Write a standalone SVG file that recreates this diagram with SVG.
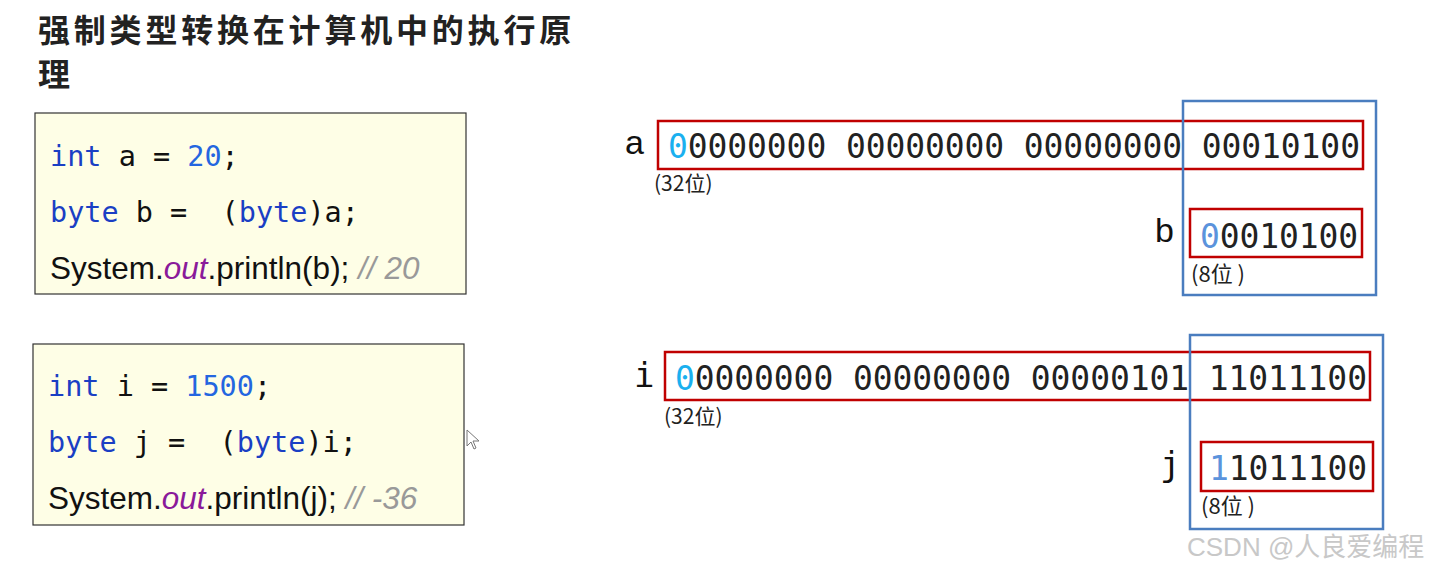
<svg xmlns="http://www.w3.org/2000/svg" width="1429" height="573" viewBox="0 0 1429 573">
<style>
.title{font-family:"Noto Sans CJK SC","Noto Sans",sans-serif;font-weight:bold;font-size:32px;fill:#222;letter-spacing:3.8px}
.code{font-family:"DejaVu Sans Mono",monospace;font-size:28.5px;fill:#111;white-space:pre}
.kw{fill:#1a3fc4}
.num{fill:#2466e0}
.sans{font-family:"Liberation Sans",Arial,sans-serif;font-size:31.5px;fill:#111;white-space:pre}
.out{fill:#8a1a9a;font-style:italic}
.cm{fill:#999;font-style:italic}
.box{fill:#fefee6;stroke:#333;stroke-width:1.2}
.red{fill:none;stroke:#c00000;stroke-width:2.5}
.blue{fill:none;stroke:#4a7dbf;stroke-width:2.5}
.bin{font-family:"DejaVu Sans Mono",monospace;font-size:33px;fill:#222}
.lbl{font-family:"Liberation Sans",Arial,sans-serif;font-size:34px;fill:#111}
.lblm{font-family:"DejaVu Sans Mono",monospace;font-size:34px;fill:#111}
.note{font-family:"Noto Sans CJK SC","Noto Sans",sans-serif;font-size:21px;fill:#222}
.note8{font-family:"Noto Sans CJK SC","Noto Sans",sans-serif;font-size:22px;fill:#222;white-space:pre}
.wm{font-family:"Liberation Sans","Noto Sans CJK SC",sans-serif;font-size:26px;fill:#c8c8c8}
</style>
<g id="title">
<text class="title" x="38" y="42">强制类型转换在计算机中的执行原</text>
<text class="title" x="38" y="86">理</text>
</g>
<g id="code1">
<rect class="box" x="35" y="113" width="431" height="181"/>
<text class="code" x="50" y="166"><tspan class="kw">int</tspan> a = <tspan class="num">20</tspan>;</text>
<text class="code" x="50" y="222"><tspan class="kw">byte</tspan> b =  (<tspan class="kw">byte</tspan>)a;</text>
<text class="sans" x="50" y="279">System.<tspan class="out">out</tspan>.println(b); <tspan class="cm">// 20</tspan></text>
</g>
<g id="code2">
<rect class="box" x="33" y="344" width="431" height="181"/>
<text class="code" x="48" y="396"><tspan class="kw">int</tspan> i = <tspan class="num">1500</tspan>;</text>
<text class="code" x="48" y="452"><tspan class="kw">byte</tspan> j =  (<tspan class="kw">byte</tspan>)i;</text>
<text class="sans" x="48" y="509">System.<tspan class="out">out</tspan>.println(j); <tspan class="cm">// -36</tspan></text>
</g>
<g id="cursor">
<path d="M467,430 L467,446 L471,442 L474,449 L476,448 L473,441 L479,441 Z" fill="#fff" stroke="#777" stroke-width="1"/>
</g>
<g id="varA">
<text class="lbl" x="625" y="154">a</text>
<rect class="red" x="658" y="121" width="705" height="48"/>
<text class="bin" x="668" y="158" textLength="692" lengthAdjust="spacing"><tspan fill="#1ab0ef">0</tspan>0000000 00000000 00000000 00010100</text>
<text class="note" x="654" y="191">(32位)</text>
</g>
<g id="varB">
<text class="lbl" x="1155" y="242">b</text>
<rect class="red" x="1190" y="209" width="172" height="48"/>
<text class="bin" x="1200" y="248" textLength="158" lengthAdjust="spacing"><tspan fill="#5b93dc">0</tspan>0010100</text>
<text class="note8" x="1191" y="282">(8位 )</text>
</g>
<g id="sliceAB">
<rect class="blue" x="1183" y="101" width="193" height="194"/>
</g>
<g id="varI">
<text class="lblm" x="634" y="387">i</text>
<rect class="red" x="665" y="352" width="705" height="48"/>
<text class="bin" x="675" y="390" textLength="692" lengthAdjust="spacing"><tspan fill="#1ab0ef">0</tspan>0000000 00000000 00000101 11011100</text>
<text class="note" x="664" y="424">(32位)</text>
</g>
<g id="varJ">
<text class="lblm" x="1160" y="476">j</text>
<rect class="red" x="1201" y="442" width="172" height="49"/>
<text class="bin" x="1209" y="480" textLength="158" lengthAdjust="spacing"><tspan fill="#5b93dc">1</tspan>1011100</text>
<text class="note8" x="1201" y="514">(8位 )</text>
</g>
<g id="sliceIJ">
<rect class="blue" x="1190" y="335" width="193" height="194"/>
</g>
<g id="watermark">
<text class="wm" x="1187" y="556">CSDN @人良爱编程</text>
</g>
</svg>
